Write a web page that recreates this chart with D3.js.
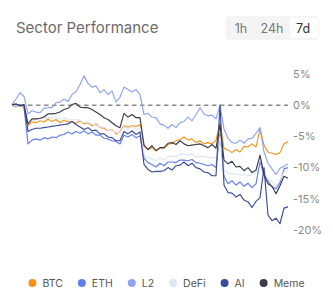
<!DOCTYPE html>
<html>
<head>
<meta charset="utf-8">
<script src="https://cdn.jsdelivr.net/npm/d3@7"></script>
<style>
    body { margin: 0; background: #fff; font-family: Inter, "Noto Sans", sans-serif; }
</style>
</head>
<body>
<svg id="chart" width="333" height="303"></svg>
<script>
'use strict';

// sector returns in %, 7d window, one value every ~2.4h
const sectors = ["BTC", "ETH", "L2", "DeFi", "AI", "Meme"];

const btc = [0.0, -0.3, -0.1, -0.4, -3.3, -2.7, -2.8, -2.5, -2.7, -2.2,
    -2.6, -2.3, -2.8, -2.4, -2.7, -2.6, -2.9, -2.5, -3.0, -2.8,
    -3.3, -3.0, -3.6, -3.7, -4.1, -3.9, -4.6, -4.2, -3.3, -3.5,
    -3.3, -3.4, -3.1, -6.6, -7.1, -6.8, -7.3, -6.9, -6.9, -6.3,
    -6.1, -5.7, -5.5, -5.1, -5.6, -5.4, -6.0, -5.7, -6.2, -6.0,
    -6.2, -5.6, -2.8, -6.9, -7.2, -7.6, -7.1, -7.5, -6.6, -6.7,
    -6.2, -6.7, -3.8, -6.4, -7.5, -7.7, -7.9, -7.6, -6.2, -5.8];

const eth = [0.0, -0.2, 0.1, -0.3, -6.2, -5.6, -5.4, -5.6, -5.2, -5.4,
    -5.1, -5.2, -4.8, -4.7, -4.3, -4.6, -4.2, -4.5, -4.1, -4.6,
    -4.3, -4.8, -4.8, -5.3, -5.4, -5.7, -5.8, -6.2, -4.8, -5.1,
    -4.7, -5.2, -4.9, -8.5, -9.2, -9.5, -9.9, -9.3, -9.7, -9.1,
    -9.1, -9.2, -8.8, -8.8, -8.9, -8.7, -9.2, -9.3, -9.5, -9.7,
    -9.5, -10.0, -4.5, -11.4, -12.6, -12.1, -12.8, -12.3, -13.0, -12.5,
    -13.2, -12.6, -9.0, -11.1, -12.1, -13.1, -13.4, -12.4, -10.2, -10.0];

const l2 = [0.1, 1.0, 2.0, 1.4, -1.4, -0.9, -1.1, -1.2, -0.5, -0.4,
    -0.4, 0.4, 0.5, 1.0, 0.6, 1.7, 2.2, 3.3, 4.7, 3.5,
    2.9, 3.1, 2.0, 2.5, 1.7, 2.3, 0.5, 1.3, 2.9, 2.5,
    2.1, 2.5, 1.7, -1.5, -1.3, -1.9, -2.0, -3.0, -3.2, -3.7,
    -3.1, -3.6, -2.8, -2.6, -1.9, -2.5, -1.5, -0.4, -1.4, -1.7,
    -1.6, -2.2, 0.0, -3.8, -5.3, -6.0, -6.1, -5.6, -6.1, -5.4,
    -5.3, -4.5, -3.6, -7.5, -9.3, -10.2, -11.1, -10.1, -9.8, -9.4];

const defi = [0.0, -0.1, -0.2, -0.1, -2.9, -2.4, -2.4, -2.1, -2.1, -2.0,
    -2.0, -1.9, -2.3, -2.0, -2.4, -2.3, -2.3, -2.4, -2.8, -2.7,
    -3.1, -3.2, -3.5, -3.5, -4.0, -4.0, -4.4, -4.3, -3.5, -3.8,
    -3.4, -3.9, -3.6, -7.9, -8.4, -8.6, -8.9, -8.4, -8.8, -8.2,
    -8.2, -8.3, -7.8, -7.9, -8.0, -7.8, -8.3, -8.2, -8.2, -8.4,
    -8.4, -8.5, -5.0, -10.3, -10.9, -11.0, -11.0, -11.2, -11.1, -11.3,
    -11.2, -10.8, -8.6, -10.5, -11.9, -12.2, -13.0, -12.0, -10.7, -10.4];

const ai = [0.0, 0.2, -0.1, 0.0, -4.2, -3.9, -3.7, -3.7, -3.6, -3.5,
    -3.4, -3.3, -3.2, -3.1, -3.0, -2.6, -3.1, -3.5, -3.9, -3.6,
    -4.1, -4.0, -4.6, -4.6, -5.1, -5.2, -5.7, -5.7, -4.2, -4.6,
    -4.1, -4.7, -4.3, -9.5, -10.3, -10.7, -10.6, -10.6, -10.5, -10.0,
    -10.4, -9.7, -9.6, -9.1, -9.7, -9.3, -10.0, -10.2, -10.7, -10.8,
    -11.3, -11.3, 0.0, -12.8, -14.0, -14.1, -14.7, -14.3, -15.2, -15.5,
    -16.4, -15.4, -14.8, -10.0, -17.6, -18.5, -18.1, -19.0, -16.5, -16.3];

const meme = [0.1, 0.2, -0.1, 0.1, -3.0, -2.2, -2.2, -2.1, -1.9, -1.4,
    -1.4, -1.3, -1.1, -0.7, -0.5, 0.1, 0.3, -0.3, -0.4, -0.4,
    -0.7, -1.1, -1.5, -2.0, -2.3, -2.8, -3.3, -3.6, -1.3, -1.9,
    -1.5, -2.0, -2.0, -6.4, -7.1, -6.5, -7.3, -6.8, -6.8, -6.1,
    -6.0, -6.3, -5.7, -6.2, -6.5, -6.4, -6.3, -6.2, -6.5, -6.8,
    -6.3, -6.9, -3.1, -8.8, -9.4, -9.0, -9.9, -9.8, -10.5, -10.0,
    -10.8, -10.4, -8.0, -11.2, -12.6, -13.0, -14.2, -12.9, -11.4, -11.7];

const yTicks = [5, 0, -5, -10, -15, -20];
const ranges = ["1h", "24h", "7d"];
const activeRange = "7d";

const colors = {
    BTC: "#f7931a", ETH: "#627eea", L2: "#8ea3f3",
    DeFi: "#dfe4f9", AI: "#3a4a9c", Meme: "#3a3d48"
};

let values = [btc, eth, l2, defi, ai, meme];
let data = sectors.map((s, i) => ({ name: s, values: values[i] }));

drawChart(data);

function drawChart(data) {
    let svg = d3.select("#chart");

    svg.append("text")
        .attr("x", 16).attr("y", 33)
        .attr("font-size", 15)
        .attr("fill", "#6b6b6b")
        .text("Sector Performance");

    drawRangeButtons(svg);

    let x = d3.scaleLinear()
        .domain([0, btc.length - 1])
        .range([12, 288]);

    let y = d3.scaleLinear()
        .domain([-20, 5])
        .range([230, 74]);

    // y labels on the right, no axis line
    svg.append("g")
        .selectAll("text")
        .data(yTicks)
        .enter().append("text")
            .attr("x", 293)
            .attr("y", d => y(d))
            .attr("dy", "0.35em")
            .attr("font-size", 11)
            .attr("fill", "#8a8a8a")
            .text(d => d + "%");

    svg.append("line")
        .attr("x1", x(0)).attr("x2", x(btc.length - 1))
        .attr("y1", y(0)).attr("y2", y(0))
        .attr("stroke", "#8c8c8c")
        .attr("stroke-width", 1.4)
        .attr("stroke-dasharray", "4.5,3.5");

    let line = d3.line()
        .x((d, i) => x(i))
        .y(d => y(d));

    svg.append("g")
        .selectAll("path")
        .data(data)
        .enter().append("path")
            .attr("fill", "none")
            .attr("stroke", d => colors[d.name])
            .attr("stroke-width", 1.15)
            .attr("stroke-linejoin", "round")
            .attr("d", d => line(d.values));

    drawLegend(svg, data);
}

function drawRangeButtons(svg) {
    let g = svg.append("g");
    g.append("rect")
        .attr("x", 226).attr("y", 16)
        .attr("width", 93).attr("height", 24)
        .attr("rx", 3)
        .attr("fill", "#f4f4f5");
    let centers = [241, 272, 303];
    g.append("rect")
        .attr("x", 290).attr("y", 18)
        .attr("width", 28).attr("height", 20)
        .attr("rx", 2)
        .attr("fill", "#fff");
    g.selectAll("text")
        .data(ranges)
        .enter().append("text")
            .attr("x", (d, i) => centers[i])
            .attr("y", 32.5)
            .attr("text-anchor", "middle")
            .attr("font-size", 12.5)
            .attr("fill", d => d === activeRange ? "#333" : "#777")
            .text(d => d);
}

function drawLegend(svg, data) {
    let g = svg.append("g");
    let items = g.selectAll("g")
        .data(data)
        .enter().append("g");
    items.append("circle")
        .attr("r", 4)
        .attr("cy", 283)
        .attr("fill", d => colors[d.name]);
    items.append("text")
        .attr("y", 283)
        .attr("dy", "0.35em")
        .attr("font-size", 10.5)
        .attr("fill", "#555")
        .text(d => d.name);

    // lay items out side by side, centred
    let gap = 15;
    let pos = 0;
    let offsets = [];
    items.each((d, i, nodes) => {
        let w = nodes[i].querySelector("text").getComputedTextLength();
        offsets.push(pos);
        pos += 8 + 6 + w + gap;
    });
    let total = pos - gap;
    let start = (333 - total) / 2;
    items.each((d, i, nodes) => {
        let sel = d3.select(nodes[i]);
        sel.select("circle").attr("cx", start + offsets[i] + 4);
        sel.select("text").attr("x", start + offsets[i] + 14);
    });
}
</script>
</body>
</html>
